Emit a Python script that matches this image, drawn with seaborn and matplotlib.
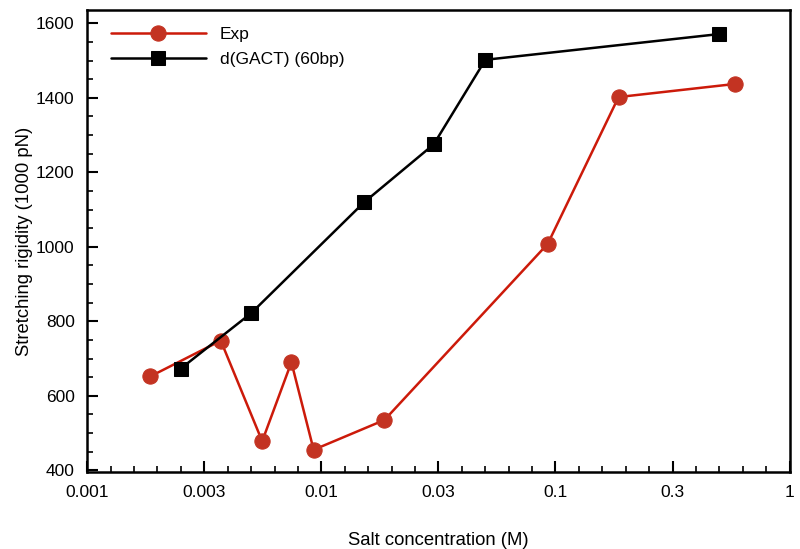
import numpy as np
import pandas as pd
import seaborn as sns
import matplotlib.pyplot as plt
from matplotlib.ticker import FixedLocator, FixedFormatter

# values
exp_salt = [0.00186, 0.00372, 0.00559, 0.00745, 0.00927, 0.0186, 0.0927, 0.186, 0.582]
exp_rig = [652, 748, 478, 690, 455, 535, 1008, 1402, 1437]
sim_salt = [0.00251, 0.00502, 0.0152, 0.0302, 0.0502, 0.499]
sim_rig = [673, 822, 1119, 1275, 1502, 1571]
xtick_labels = ["0.001", "0.003", "0.01", "0.03", "0.1", "0.3", "1"]

df_exp = pd.DataFrame({"salt": exp_salt, "rig": exp_rig})
df_sim = pd.DataFrame({"salt": sim_salt, "rig": sim_rig})

sns.set_style("ticks", {"axes.edgecolor": "black", "text.color": "black",
                        "axes.labelcolor": "black", "xtick.color": "black",
                        "ytick.color": "black"})
plt.rcParams['font.family'] = ['Liberation Sans', 'DejaVu Sans']

fig = plt.figure(figsize=(8, 5.49), dpi=100)
ax = fig.add_axes([0.109, 0.14, 0.878, 0.842])

sns.lineplot(data=df_exp, x="salt", y="rig", ax=ax, color="#cc1a0a", lw=1.8,
             marker="o", markersize=11, markerfacecolor="#c33322",
             markeredgecolor="#c33322", label="Exp", sort=False)
sns.lineplot(data=df_sim, x="salt", y="rig", ax=ax, color="black", lw=1.8,
             marker="s", markersize=10, markerfacecolor="black",
             markeredgecolor="black", label="d(GACT) (60bp)", sort=False)

ax.set_xscale("log")
ax.set_xlim(0.001, 1)
ax.set_ylim(395, 1636)

# half-decade major ticks with rounded labels, minor every 0.1 decade
ax.xaxis.set_major_locator(FixedLocator(10 ** np.arange(-3, 0.01, 0.5)))
ax.xaxis.set_major_formatter(FixedFormatter(xtick_labels))
ax.xaxis.set_minor_locator(FixedLocator(10 ** np.arange(-3, 0.01, 0.1)))
ax.xaxis.set_minor_formatter(FixedFormatter([]))
ax.set_yticks(np.arange(400, 1601, 200))
ax.set_yticks(np.arange(400, 1601, 50), minor=True)

ax.tick_params(which="major", direction="in", length=8, width=1.5, labelsize=12.5, pad=9)
ax.tick_params(which="minor", direction="in", length=4, width=1.2)
for s in ax.spines.values():
    s.set_linewidth(1.8)

ax.set_xlabel("Salt concentration (M)", fontsize=13.3, labelpad=23)
ax.set_ylabel("Stretching rigidity (1000 pN)", fontsize=13.3, labelpad=2)

ax.legend(loc="upper left", frameon=False, fontsize=12.5, handlelength=5.5,
          labelspacing=0.6, bbox_to_anchor=(0.011, 0.998))

fig.savefig("out.png", dpi=100)
